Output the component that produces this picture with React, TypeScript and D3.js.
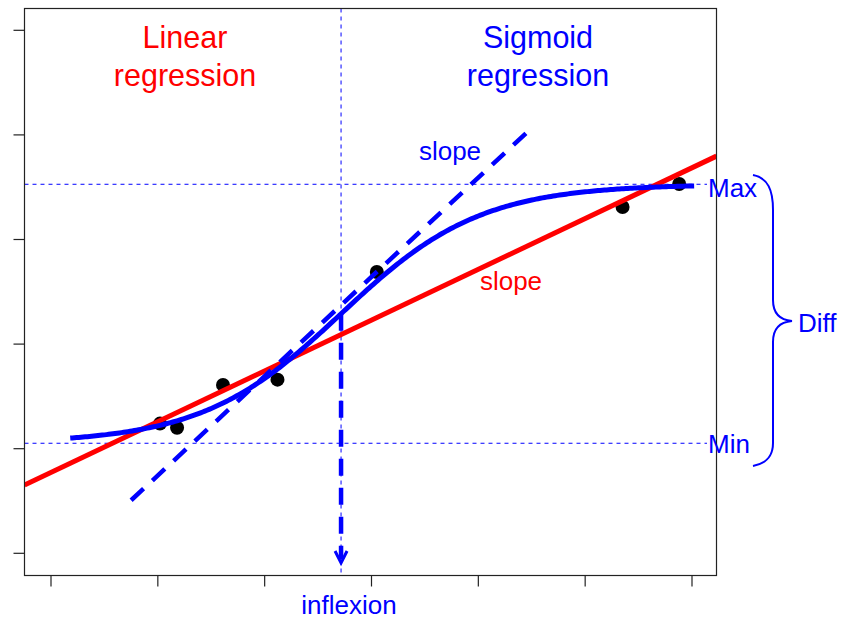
import React from 'react';
import * as d3 from 'd3';

// observed points
const pointX = [1.02, 1.18, 1.61, 2.12, 3.05, 5.35, 5.88];
const pointY = [1.24, 1.2, 1.61, 1.66, 2.69, 3.31, 3.53];

// axis ticks (no labels in the original)
const xTicks = [0, 1, 2, 3, 4, 5, 6];
const yTicks = [0, 1, 2, 3, 4, 5];

// fitted models
const linearFit = [0.773, 0.4855]; // intercept, slope
const sigmoidFit = [1.052, 3.528, 2.715, 1.533]; // min, max, inflexion, rate
const sigmoidRange = [0.18, 6.03];
const tangentX = [0.75, 4.465];
const tangentY = [0.507, 4.034];

const W = 841;
const H = 621;
const box = { left: 24.5, right: 716.5, top: 8.5, bottom: 575.5 };

const App: React.FC = () => {
  const x = d3.scaleLinear().domain([0, 6]).range([51, 692]);
  const y = d3.scaleLinear().domain([0, 5]).range([553.3, 30.3]);

  const [yMin, yMax, x0, k] = sigmoidFit;
  const sig = (v: number) => yMin + (yMax - yMin) / (1 + Math.exp(-k * (v - x0)));
  const sigXs = d3.range(sigmoidRange[0], sigmoidRange[1] + 1e-9, 0.02);
  const line = d3.line<[number, number]>().x(d => x(d[0])).y(d => y(d[1]));
  const sigPath = line(sigXs.map(v => [v, sig(v)] as [number, number])) as string;

  const [a, b] = linearFit;
  const xLo = x.invert(box.left);
  const xHi = x.invert(box.right);
  const linPath = line([[xLo, a + b * xLo], [xHi, a + b * xHi]]) as string;
  const tanPath = line([[tangentX[0], tangentY[0]], [tangentX[1], tangentY[1]]]) as string;

  const ix = x(x0);
  const iy = y((yMin + yMax) / 2);
  const arrowTip = 563;

  const blue = '#0000ff';
  const red = '#ff0000';
  const font = '"Liberation Sans", Arial, Helvetica, sans-serif';

  return (
    <svg width={W} height={H} style={{ position: 'absolute', left: 0, top: 0, background: '#fff' }} fontFamily={font}>
      <defs>
        <clipPath id="plot">
          <rect x={box.left} y={box.top} width={box.right - box.left} height={box.bottom - box.top} />
        </clipPath>
      </defs>

      {/* reference lines */}
      <line x1={box.left} x2={707} y1={y(yMax)} y2={y(yMax)} stroke={blue} strokeWidth={1} strokeDasharray="4 4" />
      <line x1={box.left} x2={707} y1={y(yMin)} y2={y(yMin)} stroke={blue} strokeWidth={1} strokeDasharray="4 4" />
      <line x1={ix} x2={ix} y1={box.top} y2={box.bottom} stroke={blue} strokeWidth={1} strokeDasharray="4 4" />

      {/* points */}
      {pointX.map((px, i) => (
        <circle key={i} cx={x(px)} cy={y(pointY[i])} r={7} fill="#000" />
      ))}

      <g clipPath="url(#plot)">
        <path d={linPath} stroke={red} strokeWidth={5} fill="none" />
        <path d={sigPath} stroke={blue} strokeWidth={5} fill="none" />
        <path d={tanPath} stroke={blue} strokeWidth={4.5} fill="none" strokeDasharray="17 12" />
      </g>

      {/* inflexion arrow */}
      <line x1={ix} x2={ix} y1={iy} y2={arrowTip - 4} stroke={blue} strokeWidth={4.5} strokeDasharray="17 12" />
      <path d={`M${ix - 6},${arrowTip - 12} L${ix},${arrowTip} L${ix + 6},${arrowTip - 12}`} stroke={blue} strokeWidth={3} fill="none" />

      {/* box and ticks */}
      <rect x={box.left} y={box.top} width={box.right - box.left} height={box.bottom - box.top} fill="none" stroke="#222" strokeWidth={1.2} />
      {xTicks.map(t => (
        <line key={'x' + t} x1={x(t)} x2={x(t)} y1={box.bottom} y2={box.bottom + 11} stroke="#222" strokeWidth={1.2} />
      ))}
      {yTicks.map(t => (
        <line key={'y' + t} x1={box.left} x2={box.left - 11} y1={y(t)} y2={y(t)} stroke="#222" strokeWidth={1.2} />
      ))}

      {/* titles */}
      <g fontSize={30.5} textAnchor="middle">
        <text x={185} y={48} fill={red}>Linear</text>
        <text x={185} y={86} fill={red}>regression</text>
        <text x={538} y={48} fill={blue}>Sigmoid</text>
        <text x={538} y={86} fill={blue}>regression</text>
      </g>

      <g fontSize={26}>
        <text x={450} y={160} fill={blue} textAnchor="middle">slope</text>
        <text x={511} y={290} fill={red} textAnchor="middle">slope</text>
        <text x={708} y={197} fill={blue}>Max</text>
        <text x={708} y={453} fill={blue}>Min</text>
        <text x={798} y={332} fill={blue}>Diff</text>
        <text x={349} y={614} fill={blue} textAnchor="middle">inflexion</text>
      </g>

      {/* brace */}
      <path
        d="M753,175 C768,178 773,190 773,210 L773,300 C773,313 780,320 792,321 C780,322 773,329 773,342 L773,443 C773,455 768,463 753,466"
        stroke={blue}
        strokeWidth={2}
        fill="none"
      />
    </svg>
  );
};

export default App;
